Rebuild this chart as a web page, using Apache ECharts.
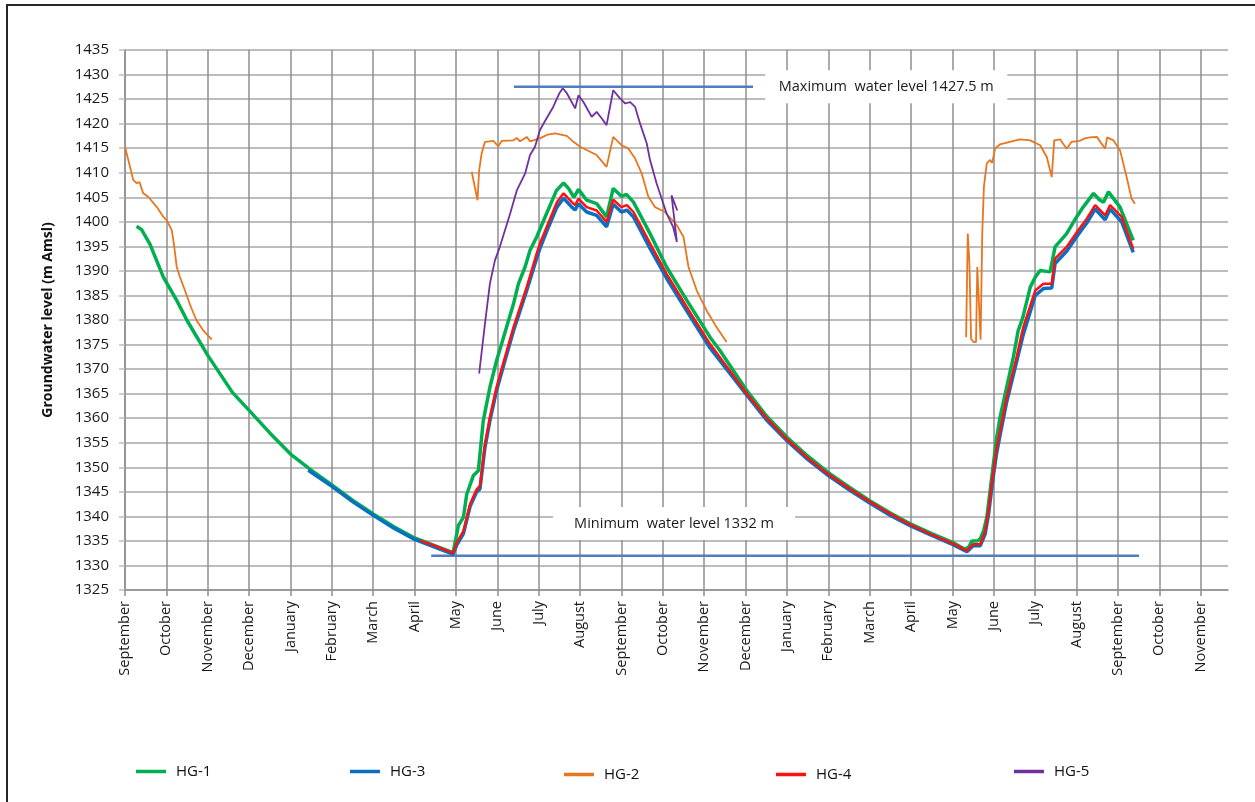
<!DOCTYPE html>
<html>
<head>
<meta charset="utf-8">
<title>Groundwater level</title>
<script src="https://cdn.jsdelivr.net/npm/echarts@6.0.0/dist/echarts.min.js"></script>
<style>
  html, body { margin: 0; padding: 0; background: #fff; }
  #chart { width: 1255px; height: 802px; }
</style>
</head>
<body>
<div id="chart"></div>
<script>
// x = months counted from the first September tick
var months = ['September', 'October', 'November', 'December', 'January', 'February', 'March',
  'April', 'May', 'June', 'July', 'August', 'September', 'October', 'November', 'December',
  'January', 'February', 'March', 'April', 'May', 'June', 'July', 'August', 'September',
  'October', 'November']

var hg1 = [[0.28, 1399.1], [0.4, 1398.4], [0.6, 1395.5], [0.93, 1388.7], [1.25, 1384.0], [1.5, 1379.9],
  [2.0, 1372.8], [2.6, 1365.2], [3.0, 1361.6], [3.5, 1357.0], [4.0, 1352.7], [4.5, 1349.4], [5.0, 1346.4],
  [5.5, 1343.3], [6.0, 1340.5], [6.5, 1337.9], [7.0, 1335.6], [7.5, 1334.0], [7.93, 1332.6], [8.06, 1338.2],
  [8.18, 1339.8], [8.26, 1344.5], [8.42, 1348.3], [8.54, 1349.3], [8.66, 1359.5], [8.82, 1366.3],
  [8.98, 1371.7], [9.15, 1376.5], [9.39, 1383.3], [9.51, 1387.4], [9.67, 1390.8], [9.79, 1394.2],
  [9.95, 1396.9], [10.19, 1401.7], [10.43, 1406.4], [10.6, 1407.9], [10.72, 1406.8], [10.85, 1405.0],
  [10.96, 1406.6], [11.16, 1404.4], [11.4, 1403.7], [11.64, 1401.0], [11.8, 1406.8], [12.0, 1405.2],
  [12.12, 1405.6], [12.29, 1404.0], [12.69, 1397.6], [13.09, 1390.8], [13.58, 1384.0], [14.14, 1376.5],
  [14.38, 1373.8], [15.03, 1365.6], [15.5, 1360.5], [16.0, 1356.1], [16.5, 1352.3], [17.0, 1348.9],
  [17.5, 1346.0], [18.0, 1343.2], [18.5, 1340.7], [19.0, 1338.4], [19.5, 1336.5], [20.0, 1334.7],
  [20.3, 1333.3], [20.4, 1333.8], [20.47, 1335.0], [20.6, 1335.0], [20.67, 1335.4], [20.75, 1337.0],
  [20.83, 1339.8], [20.91, 1345.2], [20.99, 1350.7], [21.07, 1356.1], [21.15, 1360.2], [21.31, 1366.3],
  [21.47, 1372.4], [21.59, 1377.9], [21.7, 1380.5], [21.88, 1386.7], [22.0, 1388.7], [22.12, 1390.1],
  [22.36, 1389.8], [22.48, 1394.9], [22.76, 1397.6], [23.0, 1401.0], [23.16, 1403.0], [23.41, 1405.8],
  [23.55, 1404.5], [23.65, 1404.0], [23.77, 1406.1], [24.05, 1403.0], [24.37, 1396.2]]

var hg3 = [[4.43, 1349.4], [5.0, 1346.1], [5.5, 1343.0], [6.0, 1340.2], [6.5, 1337.6], [7.0, 1335.3],
  [7.5, 1333.7], [7.93, 1332.3], [8.02, 1334.2], [8.18, 1336.5], [8.34, 1342.0], [8.5, 1345.0],
  [8.58, 1345.6], [8.7, 1354.0], [8.82, 1359.5], [8.98, 1365.6], [9.14, 1370.4], [9.39, 1377.8],
  [9.55, 1381.9], [9.71, 1386.0], [9.95, 1392.6], [10.03, 1394.6], [10.19, 1398.0], [10.44, 1403.0],
  [10.6, 1404.8], [10.8, 1403.0], [10.88, 1402.4], [10.96, 1403.7], [11.16, 1402.0], [11.4, 1401.3],
  [11.64, 1399.0], [11.8, 1403.6], [12.0, 1402.0], [12.13, 1402.4], [12.29, 1401.0], [12.69, 1394.6],
  [13.09, 1388.5], [13.58, 1381.8], [14.14, 1374.3], [15.03, 1364.7], [15.5, 1359.7], [16.0, 1355.4],
  [16.5, 1351.6], [17.0, 1348.3], [17.5, 1345.4], [18.0, 1342.7], [18.5, 1340.2], [19.0, 1338.0],
  [19.5, 1336.1], [20.0, 1334.3], [20.35, 1332.8], [20.5, 1334.0], [20.67, 1334.0], [20.79, 1336.4],
  [20.87, 1340.3], [20.99, 1348.3], [21.07, 1353.0], [21.15, 1356.5], [21.31, 1363.3], [21.55, 1371.5],
  [21.71, 1377.0], [22.0, 1385.0], [22.2, 1386.4], [22.4, 1386.5], [22.48, 1391.5], [22.76, 1394.0],
  [23.04, 1397.4], [23.25, 1399.8], [23.45, 1402.6], [23.69, 1400.4], [23.81, 1402.6], [24.09, 1400.0],
  [24.37, 1393.8]]

var hg4 = [[7.13, 1335.1], [7.5, 1334.0], [7.93, 1332.5], [8.02, 1334.7], [8.18, 1337.0], [8.34, 1342.5],
  [8.5, 1345.5], [8.58, 1346.2], [8.7, 1354.7], [8.82, 1360.2], [8.98, 1366.3], [9.14, 1371.1],
  [9.39, 1378.5], [9.55, 1382.6], [9.71, 1386.7], [9.95, 1393.5], [10.03, 1395.6], [10.19, 1398.9],
  [10.44, 1404.0], [10.6, 1405.8], [10.8, 1404.0], [10.88, 1403.4], [10.96, 1404.7], [11.16, 1403.0],
  [11.4, 1402.3], [11.64, 1400.0], [11.8, 1404.5], [12.0, 1403.0], [12.13, 1403.4], [12.29, 1402.0],
  [12.69, 1395.6], [13.09, 1389.4], [13.58, 1382.6], [14.14, 1375.1], [15.03, 1365.0], [15.5, 1360.1],
  [16.0, 1355.7], [16.5, 1351.9], [17.0, 1348.6], [17.5, 1345.7], [18.0, 1343.0], [18.5, 1340.5],
  [19.0, 1338.2], [19.5, 1336.3], [20.0, 1334.5], [20.35, 1333.0], [20.5, 1334.3], [20.67, 1334.3],
  [20.79, 1337.0], [20.87, 1341.1], [20.99, 1349.3], [21.07, 1354.0], [21.15, 1357.4], [21.31, 1364.2],
  [21.55, 1372.4], [21.71, 1378.5], [22.0, 1386.0], [22.2, 1387.4], [22.4, 1387.4], [22.48, 1392.5],
  [22.76, 1394.9], [23.04, 1398.3], [23.25, 1400.7], [23.45, 1403.4], [23.69, 1401.3], [23.81, 1403.4],
  [24.09, 1401.0], [24.37, 1394.5]]

// HG-2 has three separate logging periods
var hg2a = [[0, 1415.3], [0.08, 1412.6], [0.2, 1408.5], [0.28, 1407.9], [0.35, 1408.1], [0.44, 1405.8],
  [0.56, 1405.1], [0.77, 1403.0], [0.93, 1401.0], [1.01, 1400.3], [1.13, 1398.3], [1.18, 1395.6],
  [1.25, 1390.8], [1.33, 1388.7], [1.45, 1386.0], [1.6, 1382.5], [1.73, 1379.9], [1.89, 1377.9],
  [2.1, 1376.0]]
var hg2b = [[8.38, 1410.2], [8.52, 1404.4], [8.56, 1410.5], [8.62, 1413.9], [8.7, 1416.3], [8.9, 1416.5],
  [9.02, 1415.4], [9.11, 1416.5], [9.39, 1416.6], [9.47, 1417.1], [9.55, 1416.4], [9.71, 1417.3],
  [9.79, 1416.4], [10.03, 1417.0], [10.19, 1417.7], [10.39, 1418.0], [10.68, 1417.5], [10.84, 1416.3],
  [11.0, 1415.3], [11.4, 1413.6], [11.64, 1411.2], [11.8, 1417.3], [12.0, 1415.6], [12.17, 1414.9],
  [12.33, 1412.9], [12.49, 1409.8], [12.65, 1405.1], [12.81, 1403.0], [13.05, 1402.0], [13.34, 1399.3],
  [13.5, 1396.9], [13.62, 1390.8], [13.82, 1386.0], [14.06, 1381.9], [14.3, 1378.5], [14.54, 1375.5]]
var hg2c = [[20.33, 1376.5], [20.37, 1397.6], [20.41, 1391.5], [20.45, 1376.2], [20.51, 1375.5],
  [20.57, 1375.5], [20.6, 1390.8], [20.64, 1390.8], [20.68, 1376.0], [20.72, 1397.6], [20.76, 1407.1],
  [20.83, 1411.9], [20.91, 1412.6], [20.96, 1412.0], [21.03, 1414.9], [21.15, 1415.8], [21.39, 1416.3],
  [21.63, 1416.8], [21.88, 1416.6], [22.12, 1415.6], [22.28, 1413.2], [22.4, 1409.1], [22.46, 1416.6],
  [22.6, 1416.8], [22.76, 1414.9], [22.88, 1416.3], [23.08, 1416.5], [23.2, 1417.0], [23.32, 1417.2],
  [23.49, 1417.3], [23.69, 1414.9], [23.74, 1417.2], [23.89, 1416.6], [24.05, 1414.6], [24.21, 1409.1],
  [24.33, 1404.7], [24.41, 1403.7]]

var hg5 = [[8.56, 1369.1], [8.7, 1379.2], [8.82, 1387.4], [8.94, 1392.1], [9.06, 1394.9], [9.31, 1401.7],
  [9.47, 1406.4], [9.67, 1409.8], [9.79, 1413.6], [9.91, 1415.3], [10.03, 1418.7], [10.19, 1421.1],
  [10.35, 1423.4], [10.5, 1426.2], [10.58, 1427.2], [10.68, 1426.2], [10.88, 1423.1], [10.96, 1425.8],
  [11.08, 1424.4], [11.28, 1421.4], [11.4, 1422.4], [11.52, 1421.1], [11.64, 1419.7], [11.8, 1426.8],
  [11.97, 1425.1], [12.09, 1424.1], [12.21, 1424.4], [12.33, 1423.4], [12.45, 1420.0], [12.61, 1416.0],
  [12.69, 1412.6], [12.85, 1407.8], [13.09, 1401.7], [13.25, 1398.9], [13.34, 1395.9], [13.21, 1405.4],
  [13.35, 1402.3]]

var maxLevel = 1427.5
var maxSpan = [9.4, 15.18]
var minLevel = 1332
var minSpan = [7.4, 24.51]

var names = ['HG-1', 'HG-3', 'HG-2', 'HG-4', 'HG-5']
var colors = {
  'HG-1': '#00b050',
  'HG-3': '#0a6fc2',
  'HG-2': '#e8761e',
  'HG-4': '#ff1010',
  'HG-5': '#7030a0'
}

var font = 'Open Sans'
var chart = echarts.init(document.getElementById('chart'))

function lineSeries(name, data, width) {
  return {
    name: name,
    type: 'line',
    data: data,
    showSymbol: false,
    symbol: 'none',
    smooth: false,
    animation: false,
    color: colors[name],
    lineStyle: { color: colors[name], width: width },
    emphasis: { disabled: true }
  }
}

function levelLine(level, span, label, at) {
  return {
    name: label,
    type: 'line',
    data: [[span[0], level], [span[1], level]],
    symbol: 'none',
    animation: false,
    silent: true,
    z: 1,
    lineStyle: { color: '#4f7fbe', width: 2.5 },
    markPoint: {
      silent: true,
      symbol: 'rect',
      symbolSize: [242, 33],
      itemStyle: { color: '#fff' },
      label: {
        show: true,
        position: 'inside',
        formatter: label,
        color: '#1a1a1a',
        fontSize: 14.5,
        fontFamily: font
      },
      data: [{ coord: at }]
    }
  }
}

// each legend entry sits on its own position, like the original
var legendLeft = [131, 345, 559, 771, 1009]
var legendTop = [759, 759, 762, 762, 759]

chart.setOption({
  backgroundColor: '#fff',
  animation: false,
  textStyle: { fontFamily: font },
  grid: {
    left: 125,
    right: 27,
    top: 50,
    bottom: 212
  },
  graphic: [{
    type: 'rect',
    shape: { x: 7, y: 5, width: 1300, height: 900 },
    style: { fill: 'none', stroke: '#262626', lineWidth: 2 },
    silent: true
  }],
  legend: names.map(function(n, i) {
    return {
      data: [n],
      left: legendLeft[i],
      top: legendTop[i],
      icon: 'rect',
      itemWidth: 30,
      itemHeight: 3.5,
      selectedMode: false,
      textStyle: { fontSize: 15, color: '#111', fontFamily: font, padding: [0, 0, 0, 5] }
    }
  }),
  xAxis: {
    type: 'value',
    min: 0,
    max: 26.66,
    interval: 1,
    axisLine: { show: true, onZero: false, lineStyle: { color: '#8f8f8f', width: 1.5 } },
    axisTick: { show: true, length: 6, lineStyle: { color: '#8f8f8f', width: 1.5 } },
    axisLabel: {
      rotate: 90,
      margin: 11,
      fontSize: 14.5,
      color: '#1a1a1a',
      showMaxLabel: false,
      formatter: function(v) {
        var i = Math.round(v)
        return Math.abs(v - i) < 1e-6 && months[i] ? months[i] : ''
      }
    },
    splitLine: { show: true, showMaxLine: false, lineStyle: { color: '#8f8f8f', width: 1.5 } }
  },
  yAxis: {
    type: 'value',
    min: 1325,
    max: 1435,
    interval: 5,
    name: 'Groundwater level (m Amsl)',
    nameLocation: 'middle',
    nameGap: 70,
    nameTextStyle: { fontSize: 14, fontWeight: 'bold', color: '#111' },
    axisLine: { show: true, lineStyle: { color: '#8f8f8f', width: 1.5 } },
    axisTick: { show: true, length: 6, lineStyle: { color: '#bdbdbd', width: 1.5 } },
    axisLabel: {
      fontSize: 15,
      margin: 16,
      color: '#1a1a1a',
      formatter: function(v) { return String(v) }
    },
    splitLine: { show: true, lineStyle: { color: '#bdbdbd', width: 1.8 } }
  },
  series: [
    levelLine(maxLevel, maxSpan, 'Maximum  water level 1427.5 m', [18.4, 1427.5]),
    levelLine(minLevel, minSpan, 'Minimum  water level 1332 m', [13.27, 1338.55]),
    lineSeries('HG-1', hg1, 3.5),
    lineSeries('HG-3', hg3, 3.5),
    lineSeries('HG-2', hg2a, 1.8),
    lineSeries('HG-2', hg2b, 1.8),
    lineSeries('HG-2', hg2c, 1.8),
    lineSeries('HG-4', hg4, 2.5),
    lineSeries('HG-5', hg5, 1.8)
  ]
})
</script>
</body>
</html>
